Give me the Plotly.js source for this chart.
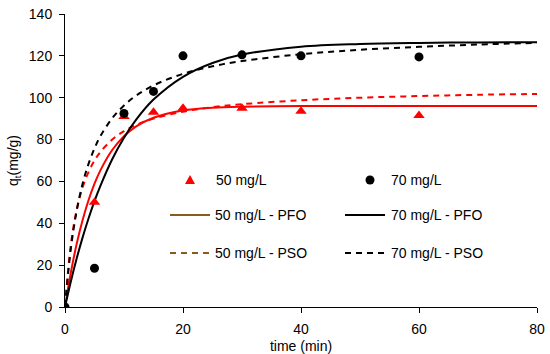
<!DOCTYPE html>
<html>
<head>
<meta charset="utf-8">
<script src="https://cdn.plot.ly/plotly-3.0.1.min.js"></script>
<style>html,body{margin:0;padding:0;background:#fff;}#chart{width:550px;height:354px;}</style>
</head>
<body>
<div id="chart"></div>
<script>
// Measured data
const tObs = [0, 5, 10, 15, 20, 30, 40, 60];
const q50 = [0, 50, 91, 93, 95, 95, 93.5, 91.5];
const q70 = [0, 18.5, 92.5, 103, 120, 120.5, 120, 119.5];

// Fitted model curves
const tFit = [0, 1, 2, 3, 4, 5, 6, 8, 10, 12, 15, 20, 25, 30, 40, 50, 60, 70, 80];
const pfo50 = [0, 16.6, 30.4, 41.7, 51.1, 58.9, 65.3, 75.0, 81.6, 86.2, 90.4, 93.9, 95.2, 95.7, 96, 96, 96, 96, 96];
const pso50 = [0, 30.0, 46.7, 57.3, 64.6, 70.0, 74.1, 80.0, 84.0, 86.9, 90.0, 93.3, 95.5, 96.9, 98.8, 100.0, 100.8, 101.4, 101.8];
const pfo70 = [0, 12.3, 23.4, 33.4, 42.4, 50.6, 57.9, 70.6, 80.9, 89.3, 99.1, 110.0, 116.6, 120.6, 124.4, 125.7, 126.2, 126.4, 126.5];
const pso70 = [0, 28.1, 46.3, 59.1, 68.5, 75.8, 81.6, 90.2, 96.3, 100.9, 105.9, 111.4, 115.0, 117.5, 120.8, 122.9, 124.3, 125.4, 126.2];

const xTicks = [0, 20, 40, 60, 80];
const yTicks = [0, 20, 40, 60, 80, 100, 120, 140];

const legendLabels = ["50 mg/L", "70 mg/L", "50 mg/L - PFO", "70 mg/L - PFO", "50 mg/L - PSO", "70 mg/L - PSO"];

const RED = "#ff0000", BLACK = "#000000", BROWN = "#8a5a1f";

const traces = [
  {x: tFit, y: pfo50, mode: "lines", line: {color: RED, width: 2, shape: "spline"}, name: legendLabels[2]},
  {x: tFit, y: pso50, mode: "lines", line: {color: RED, width: 2, dash: "6px,5px", shape: "spline"}, name: legendLabels[4]},
  {x: tFit, y: pfo70, mode: "lines", line: {color: BLACK, width: 2, shape: "spline"}, name: legendLabels[3]},
  {x: tFit, y: pso70, mode: "lines", line: {color: BLACK, width: 2, dash: "6px,5px", shape: "spline"}, name: legendLabels[5]},
  {x: tObs, y: q50, mode: "markers", marker: {symbol: "triangle-up", size: 10, color: RED}, name: legendLabels[0]},
  {x: tObs, y: q70, mode: "markers", marker: {symbol: "circle", size: 9, color: BLACK}, name: legendLabels[1]}
];

// Manual legend (paper coordinates)
const font = {family: "Liberation Sans, Arial, sans-serif", size: 14, color: "#000"};
const lfont = {family: "Liberation Sans, Arial, sans-serif", size: 14, color: "#000"};
const shapes = [];
const annotations = [];
function px(x) { return (x - 65) / (537 - 65); }
function py(y) { return (307 - y) / (307 - 14); }
const rows = [180, 215, 253];
// Row 1 markers
shapes.push({type: "path", xref: "paper", yref: "paper",
  path: `M ${px(190)} ${py(175)} L ${px(195)} ${py(184)} L ${px(185)} ${py(184)} Z`,
  fillcolor: RED, line: {width: 0}});
shapes.push({type: "circle", xref: "paper", yref: "paper",
  x0: px(365.5), x1: px(374.5), y0: py(184.5), y1: py(175.5), fillcolor: BLACK, line: {width: 0}});
// Row 2 lines
shapes.push({type: "line", xref: "paper", yref: "paper", x0: px(170), x1: px(210), y0: py(215), y1: py(215), line: {color: BROWN, width: 2}});
shapes.push({type: "line", xref: "paper", yref: "paper", x0: px(345), x1: px(385), y0: py(215), y1: py(215), line: {color: BLACK, width: 2}});
// Row 3 dashed lines
shapes.push({type: "line", xref: "paper", yref: "paper", x0: px(170), x1: px(210), y0: py(253), y1: py(253), line: {color: BROWN, width: 2, dash: "6px,5px"}});
shapes.push({type: "line", xref: "paper", yref: "paper", x0: px(345), x1: px(385), y0: py(253), y1: py(253), line: {color: BLACK, width: 2, dash: "6px,5px"}});

const textX = [[214, 389], [213, 389], [213, 389]];
for (let r = 0; r < 3; r++) {
  for (let c = 0; c < 2; c++) {
    annotations.push({xref: "paper", yref: "paper", x: px(textX[r][c]), y: py(rows[r]),
      xanchor: "left", yanchor: "middle", showarrow: false, text: legendLabels[r * 2 + c], font: lfont});
  }
}

const layout = {
  width: 550, height: 354,
  margin: {l: 65, r: 13, t: 14, b: 47},
  paper_bgcolor: "#fff", plot_bgcolor: "#fff",
  showlegend: false,
  font: font,
  xaxis: {range: [0, 80], tickvals: xTicks, ticktext: xTicks.map(String), showgrid: false, zeroline: false,
    showline: true, linecolor: "#000", linewidth: 1, ticks: "outside", ticklen: 5, tickcolor: "#000",
    ticklabelstandoff: 4,
    title: {text: "time (min)", font: font, standoff: 6}, tickfont: font},
  yaxis: {range: [0, 140], tickvals: yTicks, ticktext: yTicks.map(String), showgrid: false, zeroline: false,
    showline: true, linecolor: "#000", linewidth: 1, ticks: "outside", ticklen: 5, tickcolor: "#000",
    ticklabelstandoff: 4,
    title: {text: "q<sub>t</sub>(mg/g)", font: font, standoff: 6}, tickfont: font},
  shapes: shapes,
  annotations: annotations
};

Plotly.newPlot("chart", traces, layout, {displayModeBar: false, staticPlot: true});
</script>
</body>
</html>
